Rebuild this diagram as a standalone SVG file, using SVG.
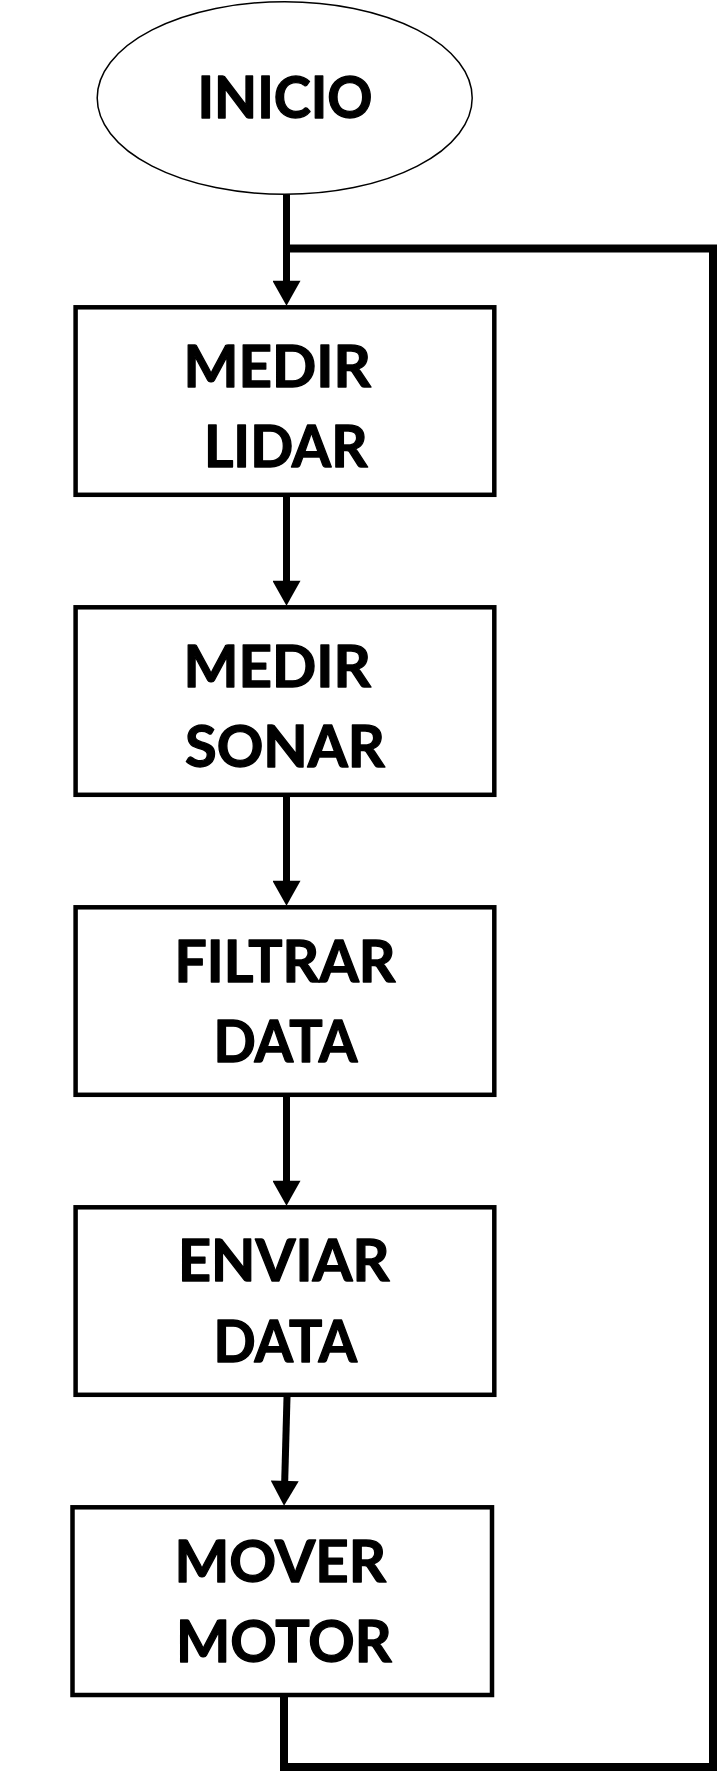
<svg xmlns="http://www.w3.org/2000/svg" width="718" height="1773" viewBox="0 0 718 1773">
<style>
.box{fill:#fff;stroke:#000;stroke-width:4.5}
.t{font-family:Lato,"Liberation Sans",sans-serif;font-weight:bold;font-size:57px;fill:#000;stroke:#000;stroke-width:1.3;stroke-linejoin:round}
.c{fill:none;stroke:#000;stroke-width:7;stroke-linejoin:miter}
.loop{fill:none;stroke:#000;stroke-width:8;stroke-linejoin:miter}
</style>
<defs>
<marker id="ah" markerUnits="userSpaceOnUse" markerWidth="28" markerHeight="28" viewBox="0 0 24 27" refX="4" refY="13.5" orient="auto">
<path d="M0,0 L24,13.5 L0,27 z" fill="#000"/>
</marker>
</defs>
<rect width="718" height="1773" fill="#fff"/>
<g id="connectors">
<path class="loop" d="M284,1697 V1767 H713 V248.5 H286.5"/>
<path class="c" d="M286.5,194 V285" marker-end="url(#ah)"/>
<path class="c" d="M286.5,497 V585" marker-end="url(#ah)"/>
<path class="c" d="M286.5,797 V885" marker-end="url(#ah)"/>
<path class="c" d="M286.5,1097 V1185" marker-end="url(#ah)"/>
<path class="c" d="M287,1397 L284.6,1485" marker-end="url(#ah)"/>
</g>
<g id="inicio">
<ellipse cx="284.7" cy="98" rx="187.5" ry="96.3" fill="#fff" stroke="#000" stroke-width="1.5"/>
<text class="t" x="197.5" y="118.3" textLength="175" lengthAdjust="spacingAndGlyphs">INICIO</text>
</g>
<g id="medir-lidar">
<rect class="box" x="75.6" y="307.3" width="418.7" height="187.5"/>
<text class="t" x="183.5" y="387.3" textLength="187.5" lengthAdjust="spacingAndGlyphs">MEDIR</text>
<text class="t" x="204" y="467.3" textLength="163.5" lengthAdjust="spacingAndGlyphs">LIDAR</text>
</g>
<g id="medir-sonar">
<rect class="box" x="75.6" y="607.3" width="418.7" height="187.5"/>
<text class="t" x="183.5" y="687.3" textLength="187.5" lengthAdjust="spacingAndGlyphs">MEDIR</text>
<text class="t" x="185" y="767.3" textLength="200" lengthAdjust="spacingAndGlyphs">SONAR</text>
</g>
<g id="filtrar-data">
<rect class="box" x="75.6" y="907.3" width="418.7" height="187.5"/>
<text class="t" x="174.5" y="981.7" textLength="221" lengthAdjust="spacingAndGlyphs">FILTRAR</text>
<text class="t" x="213.5" y="1062.3" textLength="144" lengthAdjust="spacingAndGlyphs">DATA</text>
</g>
<g id="enviar-data">
<rect class="box" x="75.6" y="1207.3" width="418.7" height="187.5"/>
<text class="t" x="178" y="1280.7" textLength="211.5" lengthAdjust="spacingAndGlyphs">ENVIAR</text>
<text class="t" x="213.5" y="1361.7" textLength="143.5" lengthAdjust="spacingAndGlyphs">DATA</text>
</g>
<g id="mover-motor">
<rect class="box" x="72.5" y="1507.3" width="419.5" height="187.7"/>
<text class="t" x="174.5" y="1581.7" textLength="211.5" lengthAdjust="spacingAndGlyphs">MOVER</text>
<text class="t" x="176" y="1662.3" textLength="215.7" lengthAdjust="spacingAndGlyphs">MOTOR</text>
</g>
</svg>
